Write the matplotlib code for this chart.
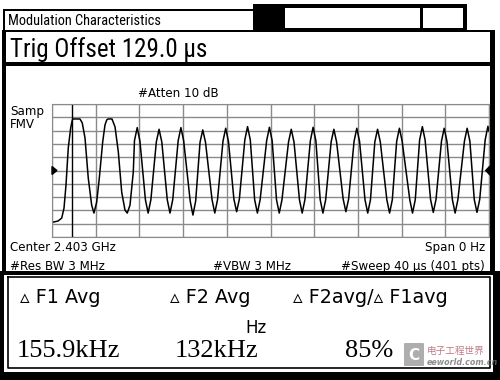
import matplotlib
matplotlib.use("Agg")
import matplotlib.pyplot as plt
from matplotlib.patches import Rectangle, Polygon, FancyBboxPatch

# trace: time (us) and FM deviation (kHz), 40 kHz/div
time_us = [0.0, 0.55, 0.89, 1.10, 1.28, 1.49, 1.71, 1.86, 1.92, 2.56, 2.77, 3.02,
           3.32, 3.63, 3.84, 4.09, 4.33, 4.64, 4.85, 5.01, 5.13, 5.49, 5.77, 6.07,
           6.38, 6.68, 6.89, 7.14, 7.44,
           7.55, 7.8, 8.05, 8.55, 8.8, 9.05, 9.55, 9.8, 10.05, 10.55, 10.8, 11.05,
           11.55, 11.8, 12.05, 12.65, 12.9, 13.15, 13.55, 13.8, 14.05, 14.65, 14.9, 15.15,
           15.65, 15.9, 16.15, 16.65, 16.9, 17.15, 17.65, 17.9, 18.15, 18.55, 18.8, 19.05,
           19.65, 19.9, 20.15, 20.55, 20.8, 21.05, 21.65, 21.9, 22.15, 22.65, 22.9, 23.15,
           23.65, 23.9, 24.15, 24.55, 24.8, 25.05, 25.55, 25.8, 26.05, 26.65, 26.9, 27.15,
           27.65, 27.9, 28.15, 28.65, 28.9, 29.15, 29.55, 29.8, 30.05, 30.65, 30.9, 31.15,
           31.55, 31.8, 32.05, 32.75, 33.0, 33.25, 33.65, 33.9, 34.15, 34.65, 34.9, 35.15,
           35.65, 35.9, 36.15, 36.65, 36.9, 37.15, 37.75, 38.0, 38.25, 38.65, 38.9, 39.15,
           39.65, 39.9, 40.0]
dev_khz = [-156, -152, -143, -113, -44, 68, 128, 152, 155, 155, 143, 98,
           -23, -104, -128, -95, -23, 86, 137, 152, 155, 155, 131, 56,
           -65, -119, -128, -104, -5,
           90, 129, 88, -88, -128, -88, 86, 124, 86, -88, -128, -88,
           90, 129, 90, -92, -134, -92, 85, 122, 85, -88, -128, -88,
           88, 127, 88, -86, -124, -86, 92, 132, 92, -88, -128, -88,
           90, 130, 90, -88, -128, -88, 86, 124, 86, -88, -128, -88,
           90, 130, 90, -88, -128, -88, 86, 124, 86, -86, -124, -86,
           88, 127, 88, -88, -128, -88, 86, 124, 86, -88, -128, -88,
           88, 127, 88, -88, -128, -88, 92, 132, 92, -87, -126, -87,
           88, 127, 88, -88, -128, -88, 88, 127, 88, -87, -126, -87,
           92, 133, 118]
marker_us = 1.83

header = "Modulation Characteristics"
trig_text = "Trig Offset 129.0 \u00b5s"
atten_text = "#Atten 10 dB"
center_text = "Center 2.403 GHz"
span_text = "Span 0 Hz"
rbw_text = "#Res BW 3 MHz"
vbw_text = "#VBW 3 MHz"
sweep_text = "#Sweep 40 \u00b5s (401 pts)"
result_labels = ["\u25b5 F1 Avg", "\u25b5 F2 Avg", "\u25b5 F2avg/\u25b5 F1avg"]
result_values = ["155.9kHz", "132kHz", "85%"]

narrow = dict(family=['Roboto Condensed', 'DejaVu Sans'], fontstretch='condensed',
              va='baseline')
small = dict(family=['DejaVu Sans'], va='baseline', fontsize=8.6)
serif = ['Liberation Serif', 'DejaVu Serif']

fig = plt.figure(figsize=(5, 3.8), dpi=100)
bg = fig.add_axes([0, 0, 1, 1])
bg.set_xlim(0, 500)
bg.set_ylim(380, 0)
bg.axis('off')

def box(x0, y0, x1, y1, color='black', **kw):
    bg.add_patch(Rectangle((x0, y0), x1 - x0, y1 - y0, facecolor=color,
                           edgecolor='none', **kw))

# title bar
box(253, 4, 467, 30)
box(285, 8, 420, 28, 'white')
box(423, 8, 463, 28, 'white')
box(3, 9, 253, 10.5)
box(3, 9, 5, 30)
# frame of the upper panels
box(2, 30, 495, 32)
box(2, 62, 495, 66)
box(2, 30, 6, 275)
box(490, 30, 495, 275)
box(0, 271, 500, 275)
# results box: thick outer, thin inner
box(0, 271, 4, 380)
box(493, 271, 500, 380)
box(0, 372, 500, 380)
bg.plot([7.5, 7.5, 489.5, 489.5, 7.5], [276.5, 367.5, 367.5, 276.5, 276.5],
        color='black', lw=1.2)

bg.text(8, 25, header, fontsize=10.4, **narrow)
bg.text(10, 57, trig_text, fontsize=18, **narrow)
bg.text(10, 115, "Samp", **small)
bg.text(10, 128, "FMV", **small)
bg.text(138, 97, atten_text, **small)
bg.text(10, 251, center_text, **small)
bg.text(485, 251, span_text, ha='right', **small)
bg.text(10, 270, rbw_text, **small)
bg.text(213, 270, vbw_text, **small)
bg.text(485, 270, sweep_text, ha='right', **small)

for x, s in zip([20, 170, 293], result_labels):
    bg.text(x, 303, s, fontsize=13.8, family='DejaVu Sans', va='baseline')
bg.text(245, 333, "Hz", fontsize=12, family='DejaVu Sans', va='baseline')
for x, s in zip([17, 175, 345], result_values):
    bg.text(x, 357, s, fontsize=19, family=serif, va='baseline')

# faint watermark in the corner
bg.add_patch(FancyBboxPatch((405, 344), 18, 21, boxstyle='round,pad=1',
                            facecolor='#9a9a9a', edgecolor='none', alpha=0.8))
bg.text(414, 355, "C", fontsize=11, color='white', ha='center', va='center',
        fontweight='bold')
bg.text(427, 354, "电子工程世界", fontsize=6.9, color='#b05a6a', va='baseline',
        family=['Noto Sans CJK SC', 'DejaVu Sans'], alpha=0.8)
bg.text(427, 365, "eeworld.com.cn", fontsize=5.8, color='#707070', va='baseline',
        style='italic', fontweight='bold', alpha=0.8)

# trace display
ax = fig.add_axes([52 / 500, 1 - 237 / 380, 437 / 500, 133 / 380])
ax.set_facecolor('none')
ax.set_xlim(0, 40)
ax.set_ylim(-200, 200)
ax.set_xticks(range(0, 41, 4))
ax.set_yticks(range(-200, 201, 40))
ax.grid(True, color='#8a8a8a', lw=1)
ax.tick_params(length=0, labelbottom=False, labelleft=False)
for sp in ax.spines.values():
    sp.set_color('#8a8a8a')
ax.axvline(marker_us, color='black', lw=1)
ax.plot(time_us, dev_khz, color='black', lw=1.1)

# reference level arrows on both sides
ax.add_patch(Polygon([[0, -12], [0, 12], [0.45, 0]], closed=True, color='black',
                     clip_on=False, zorder=5))
ax.add_patch(Polygon([[40.1, -14], [40.1, 14], [39.7, 0]], closed=True,
                     color='black', clip_on=False, zorder=5))

fig.savefig("out.png", dpi=100)
